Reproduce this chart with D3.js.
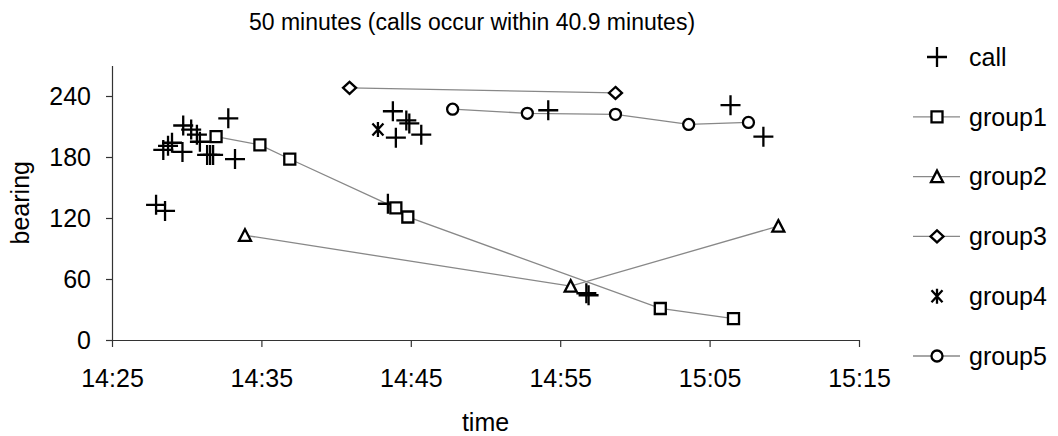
<!DOCTYPE html>
<html>
<head>
<meta charset="utf-8">
<script src="https://cdn.jsdelivr.net/npm/d3@7"></script>
<style>
  body { margin: 0; background: #fff; }
  svg { font-family: "Liberation Sans", Arial, sans-serif; }
</style>
</head>
<body>
<div id="chart"></div>
<script>
var tickLabels = ["14:25", "14:35", "14:45", "14:55", "15:05", "15:15"];
var bearingTicks = [0, 60, 120, 180, 240];

var callTimes = ["14:27:57", "14:28:33", "14:28:26", "14:28:45", "14:29:01", "14:29:43", "14:29:46",
    "14:30:18", "14:30:41", "14:30:53", "14:31:22", "14:31:34", "14:31:46", "14:32:47", "14:33:14",
    "14:43:28", "14:43:48", "14:44:00", "14:44:42", "14:44:54", "14:45:42", "14:54:12",
    "14:56:45", "14:56:54", "15:06:24", "15:08:36"];
var callBearings = [133, 127, 187, 191, 194, 185, 211,
    207, 202, 195, 182, 182, 182, 218, 178,
    134, 225, 199, 216, 213, 202, 226,
    46, 44, 231, 200];

var group1Times = ["14:31:58", "14:34:54", "14:36:54", "14:44:00", "14:44:48", "15:01:42", "15:06:36"];
var group1Bearings = [200, 192, 178, 130, 121, 31, 21];

var group2Times = ["14:33:54", "14:55:42", "15:09:36"];
var group2Bearings = [103, 53, 112];

var group3Times = ["14:40:54", "14:58:42"];
var group3Bearings = [248, 243];

var group4Times = ["14:42:48"];
var group4Bearings = [207];

var group5Times = ["14:47:48", "14:52:48", "14:58:42", "15:03:36", "15:07:36"];
var group5Bearings = [227, 223, 222, 212, 214];

var width = 1058, height = 436;
var plot = {left: 112, right: 859, top: 65.5, bottom: 340};

var parseSec = d3.timeParse("%H:%M:%S"),
    parseMin = d3.timeParse("%H:%M");

function zip(times, bearings) {
    return times.map(function(t, i) { return {t: parseSec(t), b: bearings[i]}; });
}

var series = [
    {name: "call", symbol: "plus", line: false, data: zip(callTimes, callBearings)},
    {name: "group1", symbol: "square", line: true, data: zip(group1Times, group1Bearings)},
    {name: "group2", symbol: "triangle", line: true, data: zip(group2Times, group2Bearings)},
    {name: "group3", symbol: "diamond", line: true, data: zip(group3Times, group3Bearings)},
    {name: "group4", symbol: "star", line: false, data: zip(group4Times, group4Bearings)},
    {name: "group5", symbol: "circle", line: true, data: zip(group5Times, group5Bearings)}
];

var x = d3.scaleTime()
    .domain([parseMin(tickLabels[0]), parseMin(tickLabels[tickLabels.length - 1])])
    .range([plot.left, plot.right]);

var y = d3.scaleLinear()
    .domain([0, 270])
    .range([plot.bottom, plot.top]);

var svg = d3.select("#chart").append("svg")
    .attr("width", width)
    .attr("height", height);

// symbol paths, centred on 0,0
function symbolPath(type) {
    switch (type) {
        case "plus": return "M-10,0H10M0,-10V10";
        case "square": return "M-5.5,-5.5H5.5V5.5H-5.5Z";
        case "triangle": return "M0,-6L6,5.5H-6Z";
        case "diamond": return "M0,-6L6.5,0L0,6L-6.5,0Z";
        case "star": return "M-5.5,-6L5.5,6M5.5,-6L-5.5,6M0,-7.5V7.5";
        case "circle": return "M5.5,0A5.5,5.5 0 1,1 -5.5,0A5.5,5.5 0 1,1 5.5,0Z";
    }
}

function drawSymbol(g, type) {
    var filled = type !== "plus" && type !== "star";
    g.append("path")
        .attr("d", symbolPath(type))
        .attr("fill", filled ? "#fff" : "none")
        .attr("stroke", "#000")
        .attr("stroke-width", 2.3);
}

// axes
svg.append("g")
    .attr("transform", "translate(0," + plot.bottom + ")")
    .call(d3.axisBottom(x)
        .tickValues(tickLabels.map(parseMin))
        .tickFormat(d3.timeFormat("%H:%M"))
        .tickSize(7)
        .tickSizeOuter(0)
        .tickPadding(22));

svg.append("g")
    .attr("transform", "translate(" + plot.left + ",0)")
    .call(d3.axisLeft(y)
        .tickValues(bearingTicks)
        .tickSize(6)
        .tickSizeOuter(0)
        .tickPadding(15));

svg.selectAll(".domain, .tick line").attr("stroke", "#333").attr("stroke-width", 1.2);
svg.selectAll(".tick text")
    .attr("font-size", 25)
    .attr("font-family", "'Liberation Sans', Arial, sans-serif")
    .attr("fill", "#000");

// lines
var line = d3.line()
    .x(function(d) { return x(d.t); })
    .y(function(d) { return y(d.b); });

series.filter(function(s) { return s.line; }).forEach(function(s) {
    svg.append("path")
        .datum(s.data)
        .attr("d", line)
        .attr("fill", "none")
        .attr("stroke", "#888")
        .attr("stroke-width", 1.3);
});

// markers
series.forEach(function(s) {
    svg.append("g").selectAll("g")
        .data(s.data)
        .enter().append("g")
        .attr("transform", function(d) { return "translate(" + x(d.t) + "," + y(d.b) + ")"; })
        .each(function() { drawSymbol(d3.select(this), s.symbol); });
});

// titles
svg.append("text")
    .attr("x", 472)
    .attr("y", 29.5)
    .attr("text-anchor", "middle")
    .attr("font-size", 23)
    .text("50 minutes (calls occur within 40.9 minutes)");

svg.append("text")
    .attr("x", (plot.left + plot.right) / 2)
    .attr("y", 431)
    .attr("text-anchor", "middle")
    .attr("font-size", 25)
    .text("time");

svg.append("text")
    .attr("transform", "translate(29," + ((plot.top + plot.bottom) / 2) + ") rotate(-90)")
    .attr("text-anchor", "middle")
    .attr("font-size", 25)
    .text("bearing");

// legend
var legend = svg.append("g");
series.forEach(function(s, i) {
    var g = legend.append("g")
        .attr("transform", "translate(937," + (57 + i * 59.8) + ")");
    if (s.line) {
        g.append("line")
            .attr("x1", -24).attr("x2", 23)
            .attr("stroke", "#888")
            .attr("stroke-width", 1.3);
    }
    drawSymbol(g, s.symbol);
    g.append("text")
        .attr("x", 32)
        .attr("dy", "0.35em")
        .attr("font-size", 25)
        .text(s.name);
});
</script>
</body>
</html>
